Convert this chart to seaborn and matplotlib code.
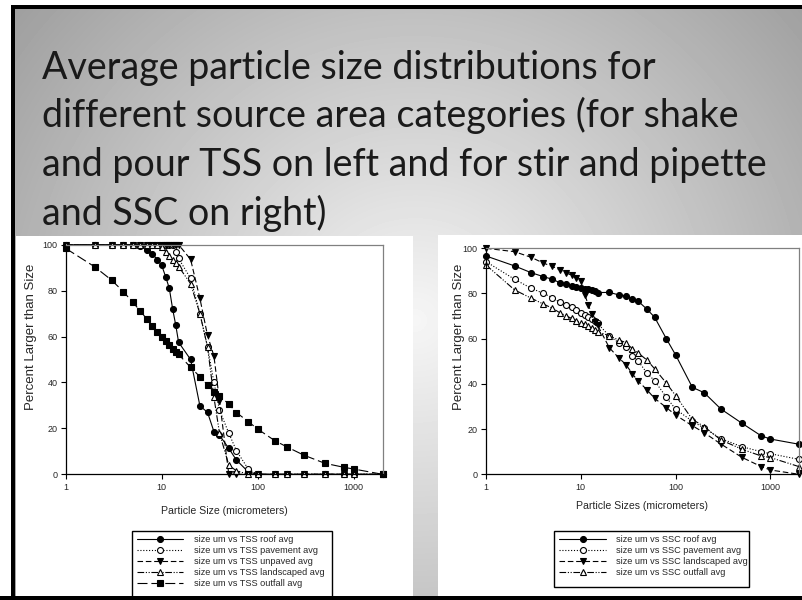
import numpy as np
import pandas as pd
import matplotlib
matplotlib.use("Agg")
import matplotlib.pyplot as plt
import seaborn as sns
from matplotlib.patches import Rectangle

# ---------------- data ----------------
sizes_um = [1, 2, 3, 4, 5, 6, 7, 8, 9, 10, 11, 12, 13, 14, 15,
            20, 25, 30, 35, 40, 50, 60, 80, 100, 150, 200, 300, 500, 800, 1000, 2000]

tss_roof = [100, 100, 100, 100, 100, 99.5, 97.5, 96, 93.5, 91, 86, 81, 72, 65, 57.5,
            50, 29.8, 27, 18.6, 17, 11.3, 6.2, 1, 0, 0, 0, 0, 0, 0, 0, 0]
tss_pavement = [100, 100, 100, 100, 100, 100, 100, 100, 100, 100, 100, 100, 100, 97, 94,
                85.3, 70, 55.5, 40, 28, 17.9, 10.3, 2.2, 0, 0, 0, 0, 0, 0, 0, 0]
tss_unpaved = [100, 100, 100, 100, 100, 100, 100, 100, 100, 100, 100, 100, 100, 100, 100,
               93.6, 76.6, 60.5, 51.5, 32, 0, 0, 0, 0, 0, 0, 0, 0, 0, 0, 0]
tss_landscaped = [100, 100, 100, 100, 100, 100, 100, 100, 100, 99, 97, 95, 93.5, 92, 90.5,
                  83, 70, 55.5, 33.5, 18, 4, 1.5, 0, 0, 0, 0, 0, 0, 0, 0, 0]
tss_outfall = [98.4, 90.4, 84.6, 79.5, 74.9, 71.1, 67.6, 64.6, 62.1, 59.9, 58, 56.3, 54.6, 53.1, 52.2,
               46.6, 42.5, 38.9, 36, 34.1, 30.6, 26.9, 22.9, 19.7, 14.7, 12, 8.4, 4.8, 3, 2.3, 0]

ssc_roof = [96.6, 92.2, 89.2, 87.5, 86.3, 84.8, 84.1, 83.3, 82.7, 82.3, 82, 82, 81.6, 81.3, 80.4,
            80.5, 79.4, 78.9, 77.6, 76.7, 73, 69.5, 59.9, 52.8, 38.5, 36.1, 28.9, 22.6, 17, 15.6, 13.3]
ssc_pavement = [94.1, 86.3, 82.3, 80.1, 78.2, 76.1, 74.9, 73.9, 72.7, 71.5, 70.6, 69.5, 68.6, 67.8, 66.8,
                61.2, 58.3, 56.2, 52.4, 50.3, 44.7, 41.4, 34, 28.8, 23.5, 20.4, 15.8, 12.2, 10, 9.1, 6.6]
ssc_landscaped = [100, 98.5, 96, 93.5, 92, 90.5, 89.2, 88, 86.7, 85.5, 79.5, 75, 71, 67.5, 66,
                  56, 51.6, 48.5, 44.4, 41.4, 37.3, 33.6, 29.5, 26.2, 21.5, 18.4, 13.4, 7.5, 3.4, 1.9, 0]
ssc_outfall = [92.6, 81.6, 77.9, 75.4, 73.5, 71.5, 70.1, 69, 68, 67.1, 66.4, 65.6, 64.9, 63.9, 63.1,
               61.3, 59.4, 58.3, 55.5, 53.8, 50.5, 46.7, 40.3, 34.8, 24.3, 21.1, 15.2, 11.1, 8.1, 7.4, 3.4]

tss_labels = ["size um vs TSS roof avg", "size um vs TSS pavement avg", "size um vs TSS unpaved avg",
              "size um vs TSS landscaped avg", "size um vs TSS outfall avg"]
ssc_labels = ["size um vs SSC roof avg", "size um vs SSC pavement avg",
              "size um vs SSC landscaped avg", "size um vs SSC outfall avg"]

x_ticks = [1, 10, 100, 1000]
x_ticklabels = ["1", "10", "100", "1000"]
y_ticks = [0, 20, 40, 60, 80, 100]

title_lines = ["Average particle size distributions for",
               "different source area categories (for shake",
               "and pour TSS on left and for stir and pipette",
               "and SSC on right)"]
ylabel_text = "Percent Larger than Size"
xlabel_left = "Particle Size (micrometers)"
xlabel_right = "Particle Sizes (micrometers)"

# ---------------- styling ----------------
sns.set_theme(style="white")
plt.rcParams["font.family"] = ["Liberation Sans", "DejaVu Sans"]

W, H = 803, 600
fig = plt.figure(figsize=(W / 100, H / 100), dpi=100)

SOLID = "-"
DOT = (0, (1, 1.6))
DASH = (0, (5, 2.5))
DASHDOTDOT = (0, (6, 1.5, 1, 1.5, 1, 1.5))
LONGDASH = (0, (9, 3.5))


def fx(px):
    return px / W


def fy(py):
    return 1 - py / H


# background (slide) in pixel coordinates
bg = fig.add_axes([0, 0, 1, 1], zorder=0)
bg.set_xlim(0, W)
bg.set_ylim(H, 0)
bg.axis("off")
yy, xx = np.mgrid[0:H, 0:W]
d = np.sqrt(((xx - 415) * 0.17) ** 2 + ((yy - 320) * 0.175) ** 2)
val = np.clip(246 - d, 140, 250) / 255.0
bg.imshow(val, cmap="gray", vmin=0, vmax=1, extent=(0, W, H, 0), aspect="auto",
          interpolation="bilinear")
# white chart pictures
bg.add_patch(Rectangle((16, 236), 397, 362, facecolor="white", edgecolor="none"))
bg.add_patch(Rectangle((438, 235), 365, 363, facecolor="white", edgecolor="none"))
# legend frames
bg.add_patch(Rectangle((131.7, 531), 200, 70, facecolor="none", edgecolor="black", lw=1.0))
bg.add_patch(Rectangle((554, 531), 195.3, 56.3, facecolor="none", edgecolor="black", lw=1.0))

# title
title_texts = []
for i, line in enumerate(title_lines):
    t = fig.text(fx(42), fy(79 + 48.5 * i), line, fontsize=26, family=["Lato", "DejaVu Sans"],
                 color="#1a1a1a", ha="left", va="baseline")
    title_texts.append(t)
fig.canvas.draw()
w3 = title_texts[2].get_window_extent().width
scale = (765 - 42) / w3
for t in title_texts:
    t.set_fontsize(26 * scale)


def make_axes(left_px, right_px, top_px, bottom_px):
    ax = fig.add_axes([fx(left_px), fy(bottom_px), fx(right_px - left_px), (bottom_px - top_px) / H],
                      zorder=2)
    ax.patch.set_alpha(0)
    return ax


def draw_series(ax, series, styles, labels):
    for vals, (mk, fc, ls, ms, lw), lab in zip(series, styles, labels):
        df = pd.DataFrame({"size": sizes_um, "pct": vals})
        sns.lineplot(data=df, x="size", y="pct", ax=ax, color="black", linewidth=lw,
                     linestyle=ls, marker=mk, markersize=ms, markerfacecolor=fc,
                     markeredgecolor="black", markeredgewidth=0.8, clip_on=False,
                     legend=False, estimator=None, sort=False, errorbar=None, label=lab)
    ax.set_xscale("log")
    ax.set_xlim(1, 2000)
    ax.set_ylim(0, 100)
    ax.set_xticks(x_ticks)
    ax.set_xticklabels(x_ticklabels)
    ax.minorticks_off()
    ax.set_yticks(y_ticks)
    ax.set_xlabel("")
    ax.set_ylabel("")
    ax.tick_params(axis="both", labelsize=6.5, length=3.5, width=0.8, direction="out",
                   color="black", pad=2.5, bottom=True, left=True)
    for s in ["left", "bottom"]:
        ax.spines[s].set_color("black")
        ax.spines[s].set_linewidth(0.9)
    for s in ["top", "right"]:
        ax.spines[s].set_color("#808080")
        ax.spines[s].set_linewidth(0.9)
    ax.grid(False)


ms = 4.3
tss_styles = [("o", "black", SOLID, ms, 0.8),
              ("o", "white", DOT, ms, 0.8),
              ("v", "black", DASH, ms, 0.8),
              ("^", "white", DASHDOTDOT, ms, 0.8),
              ("s", "black", LONGDASH, 4.0, 0.8)]
ssc_styles = [("o", "black", SOLID, ms, 0.8),
              ("o", "white", DOT, ms, 0.8),
              ("v", "black", DASH, ms, 0.8),
              ("^", "white", DASHDOTDOT, ms, 0.8)]

ax1 = make_axes(65.7, 382.6, 244.7, 474.3)
draw_series(ax1, [tss_roof, tss_pavement, tss_unpaved, tss_landscaped, tss_outfall], tss_styles, tss_labels)
ax2 = make_axes(486, 799, 248.3, 474.3)
draw_series(ax2, [ssc_roof, ssc_pavement, ssc_landscaped, ssc_outfall], ssc_styles, ssc_labels)

# axis titles
fig.text(fx(31), fy(337), ylabel_text, rotation=90, ha="center", va="center", fontsize=9.5)
fig.text(fx(459), fy(337), ylabel_text, rotation=90, ha="center", va="center", fontsize=9.5)
fig.text(fx(224), fy(511), xlabel_left, ha="center", va="center", fontsize=7.6)
fig.text(fx(642.5), fy(506), xlabel_right, ha="center", va="center", fontsize=7.6)

# legends
leg_kw = dict(loc="upper left", frameon=False, fontsize=6.6, borderpad=0, borderaxespad=0,
              handlelength=5.1, handletextpad=1.1, labelspacing=0.2, numpoints=1,
              bbox_transform=fig.transFigure)
fig.legend(ax1.get_lines(), tss_labels, bbox_to_anchor=(fx(136.7), fy(535.5)), **leg_kw)
fig.legend(ax2.get_lines(), ssc_labels, bbox_to_anchor=(fx(559.3), fy(535.5)), **leg_kw)

# slide frame on top
fg = fig.add_axes([0, 0, 1, 1], zorder=10)
fg.set_xlim(0, W)
fg.set_ylim(H, 0)
fg.axis("off")
fg.patch.set_alpha(0)
fg.add_patch(Rectangle((0, 0), W, 5, facecolor="white", edgecolor="none"))
fg.add_patch(Rectangle((0, 0), 11, H, facecolor="white", edgecolor="none"))
fg.add_patch(Rectangle((11, 5), W, 3.5, facecolor="black", edgecolor="none"))
fg.add_patch(Rectangle((11, 5), 4.5, H, facecolor="black", edgecolor="none"))
fg.add_patch(Rectangle((0, 595.5), W, 5, facecolor="black", edgecolor="none"))

fig.savefig("out.png", dpi=100)
